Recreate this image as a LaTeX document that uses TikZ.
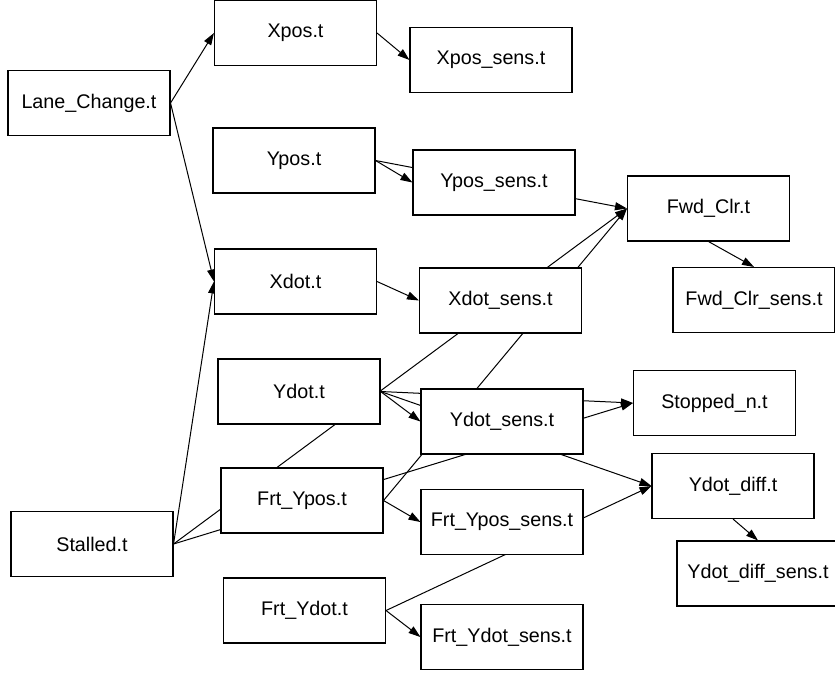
\documentclass[tikz,border=0pt]{standalone}
\usepackage{fontspec}
\setmainfont{Liberation Sans}
\usepackage{tikz}
\usetikzlibrary{positioning,arrows.meta}
\pgfdeclarelayer{bg}
\pgfsetlayers{bg,main}

\begin{document}
\begin{tikzpicture}[x=0.75pt,y=-0.75pt,
  var/.style={draw, fill=white, line width=0.8pt, minimum width=121.5pt, minimum height=48.75pt, inner sep=0pt, font=\fontsize{14.8}{17}\selectfont},
  link/.style={line width=0.75pt, -{Triangle[length=9pt,width=6pt]}}]
\useasboundingbox (0,0) rectangle (835,672);

% 列0
\node[var] (laneChange) at (89,103) {Lane\_Change.t};
\node[var] (stalled) at (92,544) {Stalled.t};

% 列1
\node[var] (xpos) at (295.5,33) {Xpos.t};
\node[var] (ypos) at (294,160.5) {Ypos.t};
\node[var] (xdot) at (295.5,281.5) {Xdot.t};
\node[var] (ydot) at (299,391.5) {Ydot.t};
\node[var] (frtYpos) at (302,500.5) {Frt\_Ypos.t};
\node[var] (frtYdot) at (304.5,610.5) {Frt\_Ydot.t};

% 列2
\node[var] (xposSens) at (491,60) {Xpos\_sens.t};
\node[var] (yposSens) at (494,182.5) {Ypos\_sens.t};
\node[var] (xdotSens) at (500.5,300.5) {Xdot\_sens.t};
\node[var] (ydotSens) at (502,421.5) {Ydot\_sens.t};
\node[var] (frtYposSens) at (502,522) {Frt\_Ypos\_sens.t};
\node[var] (frtYdotSens) at (502,637) {Frt\_Ydot\_sens.t};

% 列3
\node[var] (fwdClr) at (708.5,208.5) {Fwd\_Clr.t};
\node[var] (fwdClrSens) at (754,300) {Fwd\_Clr\_sens.t};
\node[var] (stopped) at (714.5,403) {Stopped\_n.t};
\node[var] (ydotDiff) at (733,486) {Ydot\_diff.t};
\node[var] (ydotDiffSens) at (758,573.5) {Ydot\_diff\_sens.t};

% 辺
\begin{pgfonlayer}{bg}
\draw[link] (laneChange.east) -- (xpos.west);
\draw[link] (laneChange.east) -- (xdot.west);
\draw[link] (stalled.east) -- (xdot.west);
\draw[link] (stalled.east) -- (fwdClr.west);
\draw[link] (stalled.east) -- (stopped.west);
\draw[link] (xpos.east) -- (xposSens.west);
\draw[link] (ypos.east) -- (yposSens.west);
\draw[link] (ypos.east) -- (fwdClr.west);
\draw[link] (xdot.east) -- (xdotSens.west);
\draw[link] (ydot.east) -- (ydotSens.west);
\draw[link] (ydot.east) -- (stopped.west);
\draw[link] (ydot.east) -- (ydotDiff.west);
\draw[link] (frtYpos.east) -- (frtYposSens.west);
\draw[link] (frtYpos.east) -- (fwdClr.west);
\draw[link] (frtYdot.east) -- (frtYdotSens.west);
\draw[link] (frtYdot.east) -- (ydotDiff.west);
\draw[link] (fwdClr.south) -- (fwdClrSens.north);
\draw[link] (ydotDiff.south) -- (ydotDiffSens.north);
\end{pgfonlayer}
\end{tikzpicture}
\end{document}
